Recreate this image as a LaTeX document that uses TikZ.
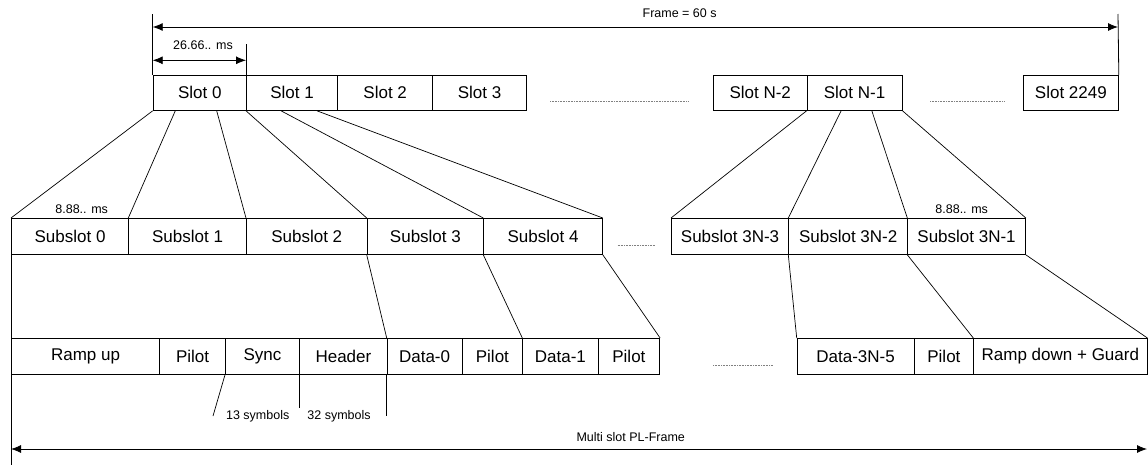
\documentclass[tikz,border=0pt]{standalone}
\usepackage{fontspec}
\setmainfont{Liberation Sans}
\usetikzlibrary{arrows.meta,calc}
\begin{document}
\begin{tikzpicture}[x=1pt,y=-1pt,line width=0.8pt,
  cell/.style={draw,rectangle,anchor=north west,inner sep=0pt,
    minimum width=#1,font=\fontsize{17}{20}\selectfont},
  slotcell/.style={cell=#1,minimum height=35pt},
  subcell/.style={cell=#1,minimum height=36pt},
  fieldcell/.style={cell=#1,minimum height=36pt},
  note/.style={inner sep=0pt,font=\fontsize{12.5}{14}\selectfont},
  dimline/.style={{Latex[length=10pt,width=8pt]}-{Latex[length=10pt,width=8pt]}},
  gapline/.style={gray,line width=0.6pt,dash pattern=on 0.8pt off 0.8pt},
  fan/.style={line width=0.7pt}]
\useasboundingbox (0,0) rectangle (1148,466);

% ---- slots of the frame
\node[slotcell=93.3pt] (s0) at (152.7,75) {Slot 0};
\node[slotcell=91.3pt] (s1) at (246,75) {Slot 1};
\node[slotcell=95pt]   (s2) at (337.3,75) {Slot 2};
\node[slotcell=93.7pt] (s3) at (432.3,75) {Slot 3};
\node[slotcell=93.6pt] (sN2) at (713,75) {Slot N-2};
\node[slotcell=95.1pt] (sN1) at (806.6,75) {Slot N-1};
\node[slotcell=95pt]   (sL) at (1023,75) {Slot 2249};

% ---- subslots
\node[subcell=117.3pt] (u0) at (11,218) {Subslot 0};
\node[subcell=117.7pt] (u1) at (128.3,218) {Subslot 1};
\node[subcell=120.7pt] (u2) at (246,218) {Subslot 2};
\node[subcell=116.6pt] (u3) at (366.7,218) {Subslot 3};
\node[subcell=118.7pt] (u4) at (483.3,218) {Subslot 4};
\node[subcell=117.3pt] (uA) at (671,218) {Subslot 3N-3};
\node[subcell=119pt]   (uB) at (788.3,218) {Subslot 3N-2};
\node[subcell=117.7pt] (uC) at (907.3,218) {Subslot 3N-1};

% ---- fields of the PL-frame
\node[fieldcell=148.3pt] (ru) at (11,338) {Ramp up};
\node[fieldcell=65.7pt]  (p0) at (159.3,338) {Pilot};
\node[fieldcell=74.3pt]  (sy) at (225,338) {Sync};
\node[fieldcell=87.4pt]  (hd) at (299.3,338) {Header};
\node[fieldcell=75pt]    (d0) at (386.7,338) {Data-0};
\node[fieldcell=60.6pt]  (p1) at (461.7,338) {Pilot};
\node[fieldcell=75.4pt]  (d1) at (522.3,338) {Data-1};
\node[fieldcell=61.6pt]  (p2) at (597.7,338) {Pilot};
\node[fieldcell=117pt]   (dn) at (796.7,338) {Data-3N-5};
\node[fieldcell=59.6pt]  (pn) at (913.7,338) {Pilot};
\node[fieldcell=173.3pt] (rd) at (973.3,338) {Ramp down + Guard};

% ---- omitted slots / subslots / fields
\coordinate (g1a) at (550,101);  \coordinate (g1b) at (688,101);
\coordinate (g2a) at (930,101);  \coordinate (g2b) at (1005,101);
\coordinate (g3a) at (617.5,245); \coordinate (g3b) at (655,245);
\coordinate (g4a) at (713,365);  \coordinate (g4b) at (773,365);
\draw[gapline] (g1a) -- (g1b);
\draw[gapline] (g2a) -- (g2b);
\draw[gapline] (g3a) -- (g3b);
\draw[gapline] (g4a) -- (g4b);

% ---- frame length and slot length
\coordinate (fl) at (152.7,27);
\coordinate (fr) at (1118,27);
\coordinate (flt) at (152.7,14);
\coordinate (frt) at (1118,14);
\coordinate (slt) at (246,44);
\coordinate (sla) at (152.7,60.3);
\coordinate (slb) at (246,60.3);
\draw (s0.north west) -- (flt);
\draw (sL.north east) -- (frt);
\draw (s1.north west) -- (slt);
\draw[dimline] (fl) -- (fr);
\draw[dimline] (sla) -- (slb);
\node[note] (flab) at (679.6,13) {Frame = 60 s};
\node[note] (slab) at (203,45) {26.66.. ms};

% ---- slots split into subslots
\draw[fan] (s0.south west) -- (u0.north west);
\draw[fan] ($(s0.south west)!0.24!(s0.south east)$) -- (u1.north west);
\draw[fan] ($(s0.south west)!0.68!(s0.south east)$) -- (u2.north west);
\draw[fan] (s1.south west) -- (u3.north west);
\draw[fan] ($(s1.south west)!0.38!(s1.south east)$) -- (u4.north west);
\draw[fan] ($(s1.south west)!0.77!(s1.south east)$) -- (u4.north east);
\draw[fan] (sN1.south west) -- (uA.north west);
\draw[fan] ($(sN1.south west)!0.36!(sN1.south east)$) -- (uB.north west);
\draw[fan] ($(sN1.south west)!0.68!(sN1.south east)$) -- (uC.north west);
\draw[fan] (sN1.south east) -- (uC.north east);
\node[note] (ulab0) at (81.7,209) {8.88.. ms};
\node[note] (ulab1) at (961.7,209) {8.88.. ms};

% ---- subslots mapped onto fields
\draw[fan] (u0.south west) -- (ru.north west);
\draw[fan] (u3.south west) -- (d0.north west);
\draw[fan] (u4.south west) -- (d1.north west);
\draw[fan] (u4.south east) -- (p2.north east);
\draw[fan] (uB.south west) -- (dn.north west);
\draw[fan] (uC.south west) -- (rd.north west);
\draw[fan] (uC.south east) -- (rd.north east);

% ---- symbol counts
\coordinate (t13) at (213,416);
\coordinate (t32) at (299.3,408);
\coordinate (t45) at (386.7,415.7);
\draw[fan] (sy.south west) -- (t13);
\draw[fan] (hd.south west) -- (t32);
\draw[fan] (d0.south west) -- (t45);
\node[note] (n13) at (257.7,416) {13 symbols};
\node[note] (n32) at (339,416) {32 symbols};

% ---- multi slot PL-frame length
\coordinate (ml) at (11,449);
\coordinate (mr) at (1147,449);
\coordinate (mb) at (11,465);
\draw (ru.south west) -- (mb);
\draw[dimline] (ml) -- (mr);
\node[note] (mlab) at (630.7,436.7) {Multi slot PL-Frame};
\end{tikzpicture}
\end{document}
